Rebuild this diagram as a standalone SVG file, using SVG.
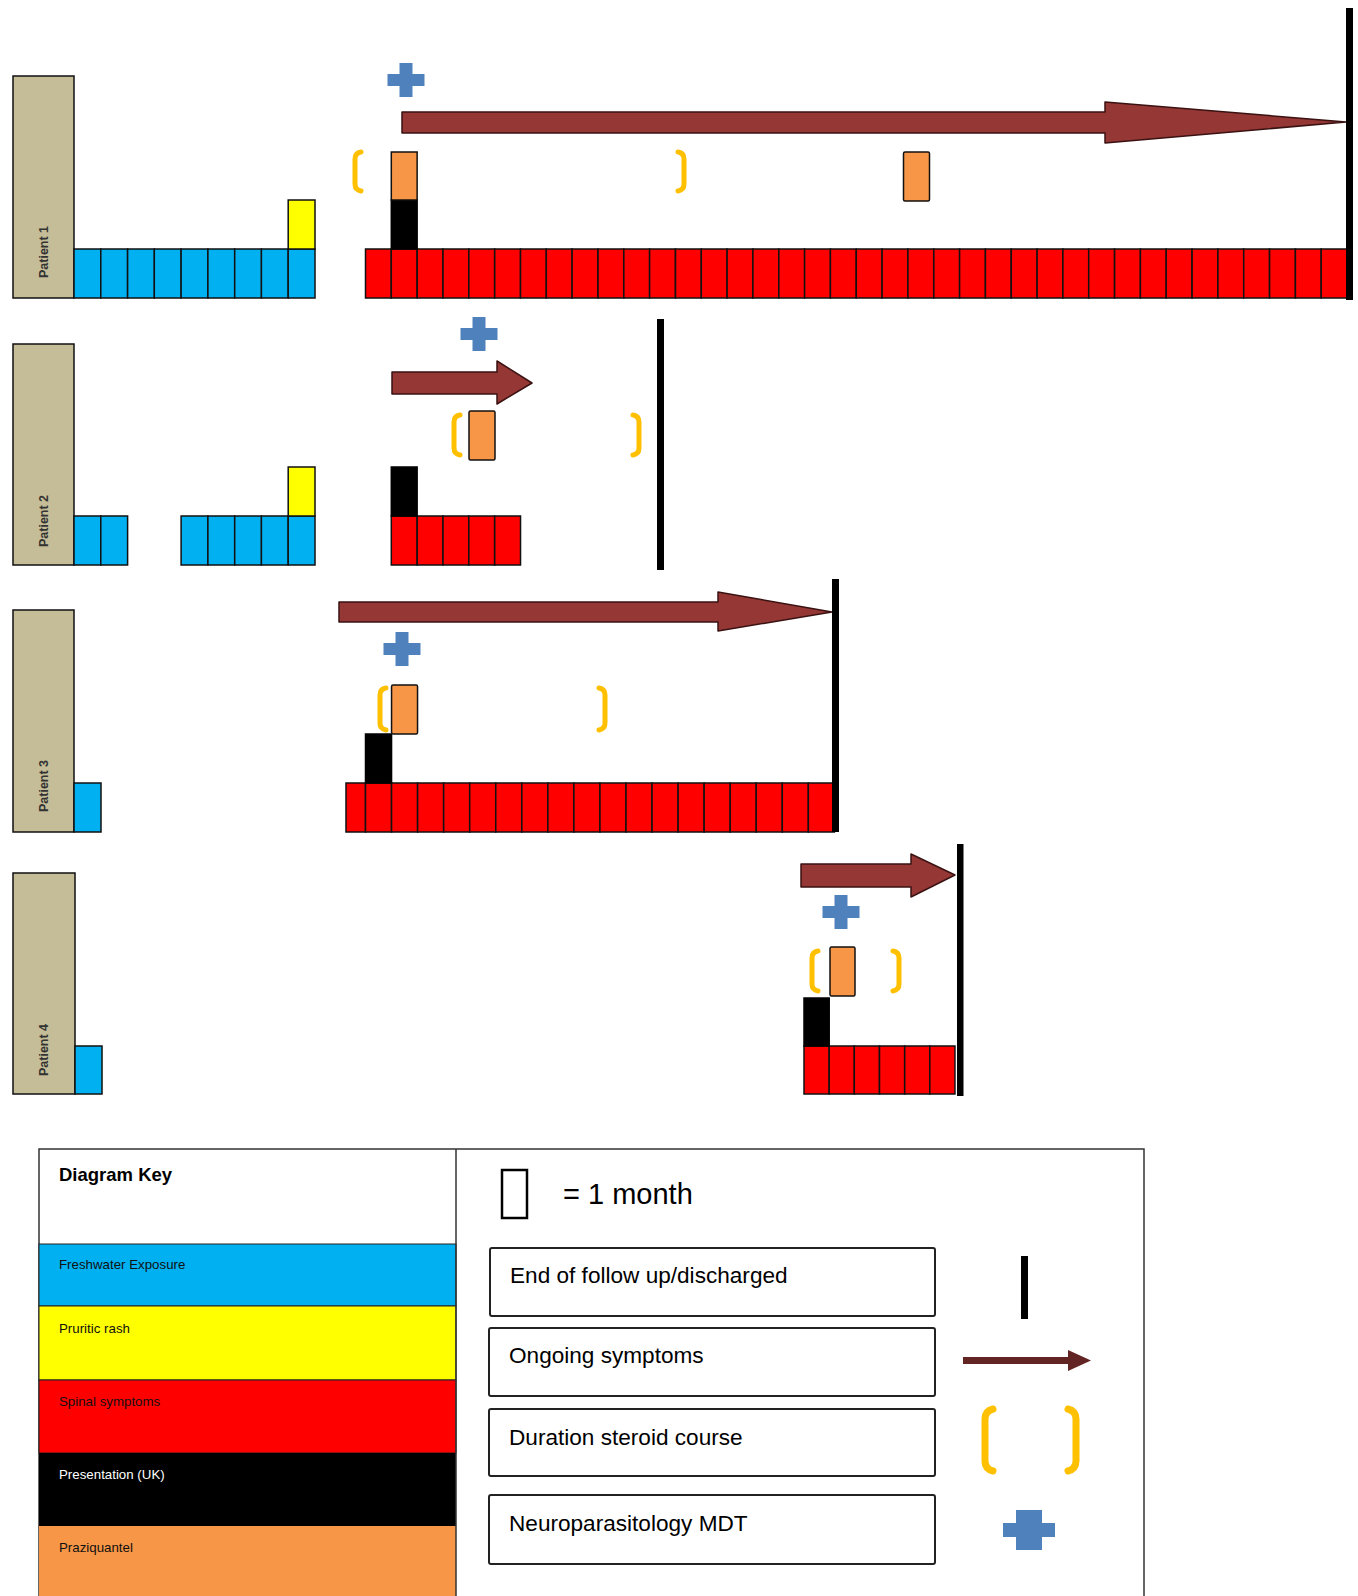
<svg xmlns="http://www.w3.org/2000/svg" width="1358" height="1596" viewBox="0 0 1358 1596">
<style>
.lbl{fill:#C4BD97;stroke:#111;stroke-width:1.5}
.b{fill:#00B0F0;stroke:#111;stroke-width:1.5}
.y{fill:#FFFF00;stroke:#111;stroke-width:1.5}
.r{fill:#FF0000;stroke:#111;stroke-width:1.5}
.k{fill:#000;stroke:#000;stroke-width:1.5}
.o{fill:#F79646;stroke:#111;stroke-width:1.5}
.arr{fill:#953735;stroke:#3a1212;stroke-width:1.5;stroke-linejoin:round}
.end{fill:#000}
.br{fill:none;stroke:#FFC000;stroke-width:5;stroke-linecap:round}
.pl{fill:#4F81BD}
.pt{font-family:"Liberation Sans",Arial,sans-serif;font-size:12.5px;font-weight:bold;fill:#333;text-anchor:middle}
.kt{font-family:"Liberation Sans",Arial,sans-serif;font-size:13.3px}
.bt{font-family:"Liberation Sans",Arial,sans-serif;font-size:22.6px;fill:#000}
.box{fill:#fff;stroke:#222;stroke-width:2}
</style>
<defs>
<path id="plus" d="M-6.5,-17 h13 v11 h12 v12 h-12 v11 h-13 v-11 h-12 v-12 h12 z"/>
</defs>
<rect width="1358" height="1596" fill="#fff"/>

<g id="patient1">
<rect class="lbl" x="13" y="76" width="61" height="222"/>
<text class="pt" transform="translate(47.5,252) rotate(-90)">Patient 1</text>
<rect class="b" x="74" y="249" width="26.8" height="49"/>
<rect class="b" x="100.8" y="249" width="26.8" height="49"/>
<rect class="b" x="127.6" y="249" width="26.8" height="49"/>
<rect class="b" x="154.3" y="249" width="26.8" height="49"/>
<rect class="b" x="181.1" y="249" width="26.8" height="49"/>
<rect class="b" x="207.9" y="249" width="26.8" height="49"/>
<rect class="b" x="234.7" y="249" width="26.8" height="49"/>
<rect class="b" x="261.4" y="249" width="26.8" height="49"/>
<rect class="b" x="288.2" y="249" width="26.8" height="49"/>
<rect class="y" x="288.2" y="200" width="26.8" height="49"/>
<rect class="r" x="365.5" y="249" width="25.83" height="49"/>
<rect class="r" x="391.3" y="249" width="25.83" height="49"/>
<rect class="r" x="417.2" y="249" width="25.83" height="49"/>
<rect class="r" x="443.0" y="249" width="25.83" height="49"/>
<rect class="r" x="468.8" y="249" width="25.83" height="49"/>
<rect class="r" x="494.7" y="249" width="25.83" height="49"/>
<rect class="r" x="520.5" y="249" width="25.83" height="49"/>
<rect class="r" x="546.3" y="249" width="25.83" height="49"/>
<rect class="r" x="572.1" y="249" width="25.83" height="49"/>
<rect class="r" x="598.0" y="249" width="25.83" height="49"/>
<rect class="r" x="623.8" y="249" width="25.83" height="49"/>
<rect class="r" x="649.6" y="249" width="25.83" height="49"/>
<rect class="r" x="675.5" y="249" width="25.83" height="49"/>
<rect class="r" x="701.3" y="249" width="25.83" height="49"/>
<rect class="r" x="727.1" y="249" width="25.83" height="49"/>
<rect class="r" x="752.9" y="249" width="25.83" height="49"/>
<rect class="r" x="778.8" y="249" width="25.83" height="49"/>
<rect class="r" x="804.6" y="249" width="25.83" height="49"/>
<rect class="r" x="830.4" y="249" width="25.83" height="49"/>
<rect class="r" x="856.3" y="249" width="25.83" height="49"/>
<rect class="r" x="882.1" y="249" width="25.83" height="49"/>
<rect class="r" x="907.9" y="249" width="25.83" height="49"/>
<rect class="r" x="933.8" y="249" width="25.83" height="49"/>
<rect class="r" x="959.6" y="249" width="25.83" height="49"/>
<rect class="r" x="985.4" y="249" width="25.83" height="49"/>
<rect class="r" x="1011.3" y="249" width="25.83" height="49"/>
<rect class="r" x="1037.1" y="249" width="25.83" height="49"/>
<rect class="r" x="1062.9" y="249" width="25.83" height="49"/>
<rect class="r" x="1088.7" y="249" width="25.83" height="49"/>
<rect class="r" x="1114.6" y="249" width="25.83" height="49"/>
<rect class="r" x="1140.4" y="249" width="25.83" height="49"/>
<rect class="r" x="1166.2" y="249" width="25.83" height="49"/>
<rect class="r" x="1192.1" y="249" width="25.83" height="49"/>
<rect class="r" x="1217.9" y="249" width="25.83" height="49"/>
<rect class="r" x="1243.7" y="249" width="25.83" height="49"/>
<rect class="r" x="1269.6" y="249" width="25.83" height="49"/>
<rect class="r" x="1295.4" y="249" width="25.83" height="49"/>
<rect class="r" x="1321.2" y="249" width="25.83" height="49"/>
<rect class="k" x="391.3" y="200" width="25.83" height="49"/>
<rect class="o" x="391.3" y="152" width="25.83" height="48"/>
<rect class="o" x="903.5" y="152" width="26" height="49" rx="1.5"/>
<path class="br" d="M361,152 Q355,153 355,159 V184 Q355,190 361,191"/>
<path class="br" d="M678,152 Q684,153 684,159 V184 Q684,190 678,191"/>
<use href="#plus" class="pl" x="406" y="80"/>
<polygon class="arr" points="402,112 1105,112 1105,102 1346,122 1105,143 1105,133 402,133"/>
<rect class="end" x="1346" y="8" width="7" height="292"/>
</g>

<g id="patient2">
<rect class="lbl" x="13" y="344" width="61" height="221"/>
<text class="pt" transform="translate(47.5,521) rotate(-90)">Patient 2</text>
<rect class="b" x="74" y="516" width="26.8" height="49"/>
<rect class="b" x="100.8" y="516" width="26.8" height="49"/>
<rect class="b" x="181.1" y="516" width="26.8" height="49"/>
<rect class="b" x="207.9" y="516" width="26.8" height="49"/>
<rect class="b" x="234.7" y="516" width="26.8" height="49"/>
<rect class="b" x="261.4" y="516" width="26.8" height="49"/>
<rect class="b" x="288.2" y="516" width="26.8" height="49"/>
<rect class="y" x="288.2" y="467" width="26.8" height="49"/>
<rect class="r" x="391.3" y="516" width="25.83" height="49"/>
<rect class="r" x="417.2" y="516" width="25.83" height="49"/>
<rect class="r" x="443.0" y="516" width="25.83" height="49"/>
<rect class="r" x="468.8" y="516" width="25.83" height="49"/>
<rect class="r" x="494.7" y="516" width="25.83" height="49"/>
<rect class="k" x="391.3" y="467" width="25.83" height="49"/>
<rect class="o" x="469" y="411" width="26" height="49" rx="1.5"/>
<path class="br" d="M460,415 Q454,416 454,422 V448 Q454,454 460,455"/>
<path class="br" d="M633,415 Q639,416 639,422 V448 Q639,454 633,455"/>
<use href="#plus" class="pl" x="479" y="334"/>
<polygon class="arr" points="392,372 497,372 497,361 532,383 497,404 497,394 392,394"/>
<rect class="end" x="657" y="319" width="7" height="251"/>
</g>

<g id="patient3">
<rect class="lbl" x="13" y="610" width="61" height="222"/>
<text class="pt" transform="translate(47.5,786) rotate(-90)">Patient 3</text>
<rect class="b" x="74" y="783" width="27" height="49"/>
<rect class="r" x="346" y="783" width="19.5" height="49"/>
<rect class="r" x="365.5" y="783" width="26.05" height="49"/>
<rect class="r" x="391.55" y="783" width="26.05" height="49"/>
<rect class="r" x="417.6" y="783" width="26.05" height="49"/>
<rect class="r" x="443.65" y="783" width="26.05" height="49"/>
<rect class="r" x="469.7" y="783" width="26.05" height="49"/>
<rect class="r" x="495.75" y="783" width="26.05" height="49"/>
<rect class="r" x="521.8" y="783" width="26.05" height="49"/>
<rect class="r" x="547.85" y="783" width="26.05" height="49"/>
<rect class="r" x="573.9" y="783" width="26.05" height="49"/>
<rect class="r" x="599.95" y="783" width="26.05" height="49"/>
<rect class="r" x="626.0" y="783" width="26.05" height="49"/>
<rect class="r" x="652.05" y="783" width="26.05" height="49"/>
<rect class="r" x="678.1" y="783" width="26.05" height="49"/>
<rect class="r" x="704.15" y="783" width="26.05" height="49"/>
<rect class="r" x="730.2" y="783" width="26.05" height="49"/>
<rect class="r" x="756.25" y="783" width="26.05" height="49"/>
<rect class="r" x="782.3" y="783" width="26.05" height="49"/>
<rect class="r" x="808.35" y="783" width="26.05" height="49"/>
<rect class="k" x="365.5" y="734" width="26.05" height="49"/>
<rect class="o" x="391.55" y="685" width="26" height="49" rx="1.5"/>
<path class="br" d="M386,688 Q380,689 380,695 V723 Q380,729 386,730"/>
<path class="br" d="M599,688 Q605,689 605,695 V723 Q605,729 599,730"/>
<use href="#plus" class="pl" x="402" y="649"/>
<polygon class="arr" points="339,602 718,602 718,592 832,612 718,631 718,622 339,622"/>
<rect class="end" x="832" y="579" width="7" height="253"/>
</g>

<g id="patient4">
<rect class="lbl" x="13" y="873" width="62" height="221"/>
<text class="pt" transform="translate(47.5,1050) rotate(-90)">Patient 4</text>
<rect class="b" x="75" y="1046" width="27" height="48"/>
<rect class="r" x="804" y="1046" width="25.17" height="48"/>
<rect class="r" x="829.2" y="1046" width="25.17" height="48"/>
<rect class="r" x="854.3" y="1046" width="25.17" height="48"/>
<rect class="r" x="879.5" y="1046" width="25.17" height="48"/>
<rect class="r" x="904.7" y="1046" width="25.17" height="48"/>
<rect class="r" x="929.8" y="1046" width="25.17" height="48"/>
<rect class="k" x="804" y="998" width="25.2" height="48"/>
<rect class="o" x="830" y="947" width="25" height="49" rx="1.5"/>
<path class="br" d="M818,951 Q812,952 812,958 V984 Q812,990 818,991"/>
<path class="br" d="M893,951 Q899,952 899,958 V984 Q899,990 893,991"/>
<use href="#plus" class="pl" x="841" y="912"/>
<polygon class="arr" points="801,864 911,864 911,854 955,875 911,897 911,887 801,887"/>
<rect class="end" x="957" y="844" width="6.5" height="252"/>
</g>

<g id="key">
<rect x="39" y="1149" width="1105" height="460" fill="#fff" stroke="#333" stroke-width="1.5"/>
<rect x="39" y="1244" width="417" height="62" fill="#00B0F0" stroke="#222" stroke-width="1"/>
<rect x="39" y="1306" width="417" height="74" fill="#FFFF00" stroke="#222" stroke-width="1"/>
<rect x="39" y="1380" width="417" height="73" fill="#FF0000" stroke="#222" stroke-width="1"/>
<rect x="39" y="1453" width="417" height="73" fill="#000"/>
<rect x="39" y="1526" width="417" height="80" fill="#F79646"/>
<line x1="456" y1="1149" x2="456" y2="1596" stroke="#333" stroke-width="1.5"/>
<text x="59" y="1181" font-family="'Liberation Sans',Arial,sans-serif" font-size="18.5" font-weight="bold" fill="#000">Diagram Key</text>
<text class="kt" x="59" y="1269" fill="#111">Freshwater Exposure</text>
<text class="kt" x="59" y="1333" fill="#111">Pruritic rash</text>
<text class="kt" x="59" y="1406" fill="#111">Spinal symptoms</text>
<text class="kt" x="59" y="1479" fill="#fff">Presentation (UK)</text>
<text class="kt" x="59" y="1552" fill="#111">Praziquantel</text>

<rect x="502" y="1170" width="25" height="48" fill="#fff" stroke="#000" stroke-width="2.5"/>
<text x="563" y="1204" font-family="'Liberation Sans',Arial,sans-serif" font-size="29" fill="#000">= 1 month</text>

<rect class="box" x="490" y="1248" width="445" height="68" rx="2"/>
<text class="bt" x="510" y="1283">End of follow up/discharged</text>
<rect class="box" x="489" y="1328" width="446" height="68" rx="2"/>
<text class="bt" x="509" y="1363">Ongoing symptoms</text>
<rect class="box" x="489" y="1409" width="446" height="67" rx="2"/>
<text class="bt" x="509" y="1445">Duration steroid course</text>
<rect class="box" x="489" y="1495" width="446" height="69" rx="2"/>
<text class="bt" x="509" y="1531">Neuroparasitology MDT</text>

<rect x="1021" y="1256" width="7" height="63" fill="#000"/>
<polygon points="963,1357 1068,1357 1068,1350 1091,1360.5 1068,1371 1068,1364 963,1364" fill="#632523"/>
<path d="M993,1409 Q985,1411 985,1419 V1461 Q985,1469 993,1471" fill="none" stroke="#FFC000" stroke-width="7" stroke-linecap="round"/>
<path d="M1068,1409 Q1076,1411 1076,1419 V1461 Q1076,1469 1068,1471" fill="none" stroke="#FFC000" stroke-width="7" stroke-linecap="round"/>
<path class="pl" d="M1016,1510 h26 v13 h13 v14 h-13 v13 h-26 v-13 h-13 v-14 h13 z"/>
</g>
</svg>
